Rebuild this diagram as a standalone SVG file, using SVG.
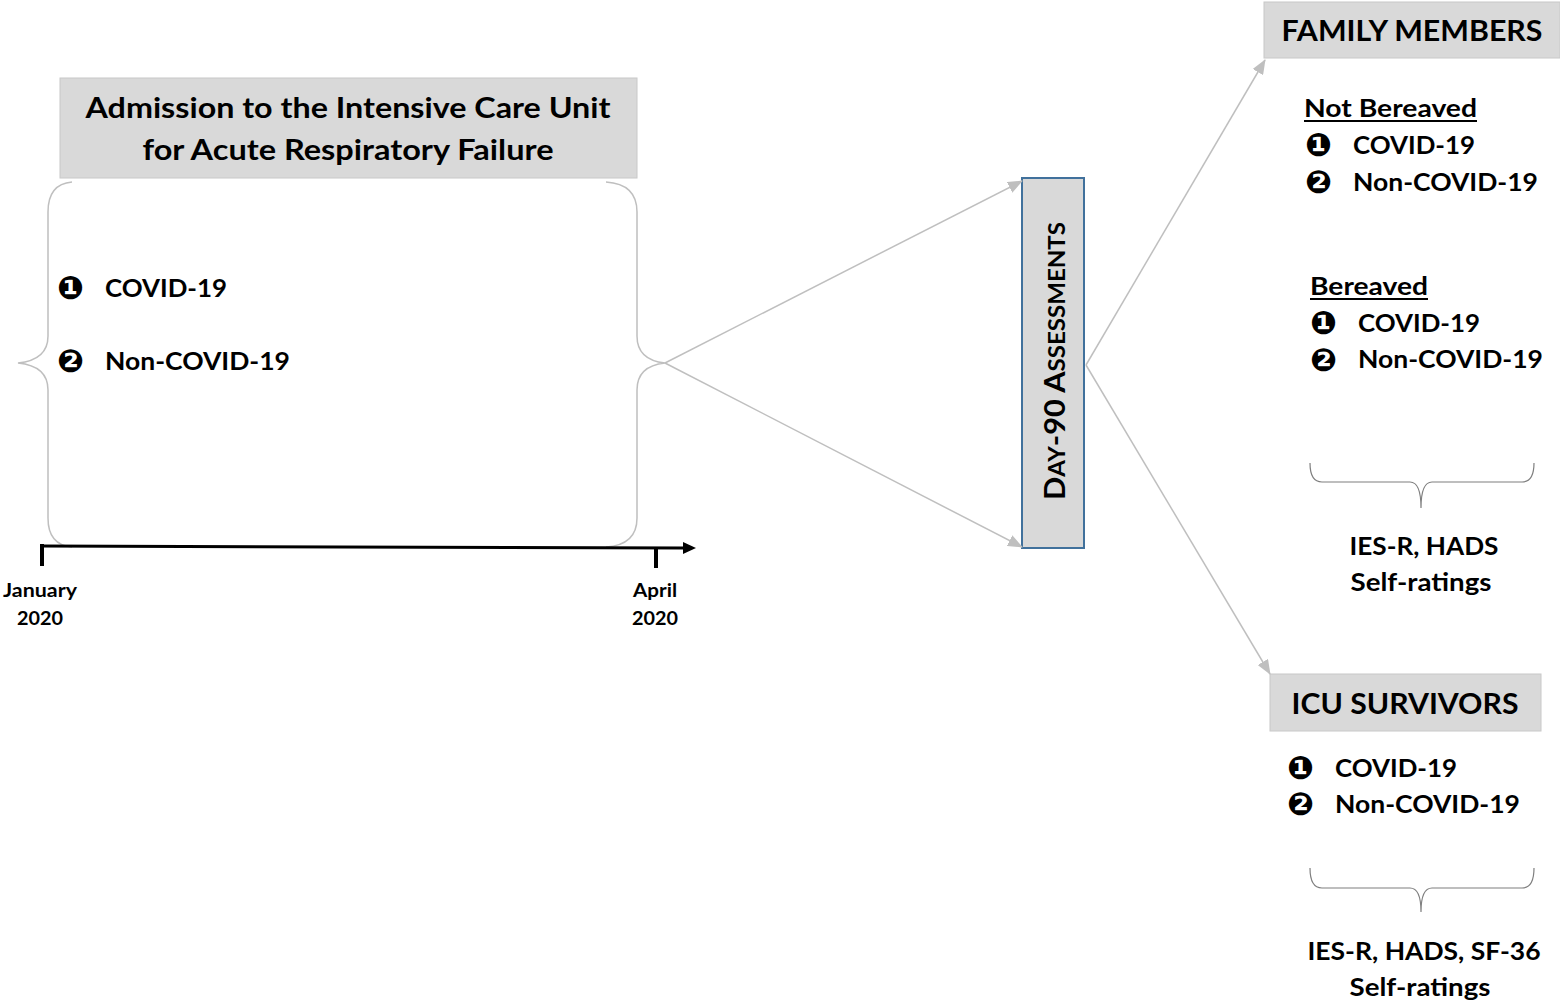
<svg xmlns="http://www.w3.org/2000/svg" width="1560" height="1003" viewBox="0 0 1560 1003">
<style>
.t{font-family:Lato,"Open Sans","Liberation Sans",sans-serif;font-weight:bold;fill:#000}
.n{font-family:"DejaVu Sans",sans-serif;font-weight:bold;fill:#000;font-size:32px}
.box{fill:#d9d9d9;stroke:#c8c8c8;stroke-width:1}
.conn{stroke:#bfbfbf;stroke-width:1.5;fill:none}
.brace{stroke:#bfbfbf;stroke-width:1.5;fill:none}
.sbrace{stroke:#7f7f7f;stroke-width:1.2;fill:none}
</style>
<defs>
<marker id="ah" markerUnits="userSpaceOnUse" markerWidth="16" markerHeight="12" refX="14" refY="6" orient="auto">
<path d="M0,0 L15,6 L0,12 Z" fill="#bfbfbf"/>
</marker>
</defs>
<rect width="1560" height="1003" fill="#fff"/>

<g id="admission">
<rect class="box" x="60" y="78" width="577" height="100"/>
<text class="t" x="348" y="118" font-size="29" text-anchor="middle" textLength="525" lengthAdjust="spacingAndGlyphs">Admission to the Intensive Care Unit</text>
<text class="t" x="348" y="160" font-size="29" text-anchor="middle" textLength="411" lengthAdjust="spacingAndGlyphs">for Acute Respiratory Failure</text>
</g>

<g id="cohort">
<path class="brace" d="M72,182 Q48,184 48,212 L48,336 Q48,360 18,363 Q48,366 48,390 L48,518 Q48,545 72,547"/>
<path class="brace" d="M606,182 Q637,184 637,212 L637,336 Q637,360 665,363 Q637,366 637,390 L637,518 Q637,545 606,547"/>
<text class="n" x="57" y="299">❶</text>
<text class="t" x="105" y="297" font-size="25" textLength="122" lengthAdjust="spacingAndGlyphs">COVID-19</text>
<text class="n" x="57" y="372">❷</text>
<text class="t" x="105" y="370" font-size="25" textLength="185" lengthAdjust="spacingAndGlyphs">Non-COVID-19</text>
</g>

<g id="timeline">
<line x1="40" y1="546" x2="684" y2="548" stroke="#000" stroke-width="3"/>
<path d="M683,542 L696,548 L683,554 Z" fill="#000"/>
<line x1="42" y1="544" x2="42" y2="566" stroke="#000" stroke-width="4"/>
<line x1="656" y1="547" x2="656" y2="568" stroke="#000" stroke-width="4"/>
<text class="t" x="40" y="597" font-size="18" text-anchor="middle" textLength="74" lengthAdjust="spacingAndGlyphs">January</text>
<text class="t" x="40" y="625" font-size="18" text-anchor="middle" textLength="46" lengthAdjust="spacingAndGlyphs">2020</text>
<text class="t" x="655" y="597" font-size="18" text-anchor="middle" textLength="44" lengthAdjust="spacingAndGlyphs">April</text>
<text class="t" x="655" y="625" font-size="18" text-anchor="middle" textLength="46" lengthAdjust="spacingAndGlyphs">2020</text>
</g>

<g id="day90">
<rect x="1022" y="178" width="62" height="370" fill="#d9d9d9" stroke="#41719c" stroke-width="2"/>
<text class="t" transform="translate(1065,500) rotate(-90)" font-size="28" textLength="278" lengthAdjust="spacingAndGlyphs">D<tspan font-size="22">AY</tspan>-90 A<tspan font-size="22">SSESSMENTS</tspan></text>
</g>

<g id="family">
<rect class="box" x="1264" y="2" width="296" height="56"/>
<text class="t" x="1412" y="41" font-size="29" text-anchor="middle" textLength="261" lengthAdjust="spacingAndGlyphs">FAMILY MEMBERS</text>
<text class="t" x="1304" y="117" font-size="25" textLength="173" lengthAdjust="spacingAndGlyphs">Not Bereaved</text>
<line x1="1304" y1="121" x2="1477" y2="121" stroke="#000" stroke-width="2"/>
<text class="n" x="1305" y="156">❶</text>
<text class="t" x="1353" y="154" font-size="25" textLength="122" lengthAdjust="spacingAndGlyphs">COVID-19</text>
<text class="n" x="1305" y="193">❷</text>
<text class="t" x="1353" y="191" font-size="25" textLength="185" lengthAdjust="spacingAndGlyphs">Non-COVID-19</text>
<text class="t" x="1310" y="295" font-size="25" textLength="118" lengthAdjust="spacingAndGlyphs">Bereaved</text>
<line x1="1310" y1="299" x2="1428" y2="299" stroke="#000" stroke-width="2"/>
<text class="n" x="1310" y="334">❶</text>
<text class="t" x="1358" y="332" font-size="25" textLength="122" lengthAdjust="spacingAndGlyphs">COVID-19</text>
<text class="n" x="1310" y="371">❷</text>
<text class="t" x="1358" y="368" font-size="25" textLength="185" lengthAdjust="spacingAndGlyphs">Non-COVID-19</text>
<path class="sbrace" d="M1310,463 Q1310,482 1322,482 L1410,482 Q1421,482 1421,508 Q1421,482 1432,482 L1522,482 Q1534,482 1534,463"/>
<text class="t" x="1424" y="555" font-size="25" text-anchor="middle" textLength="149" lengthAdjust="spacingAndGlyphs">IES-R, HADS</text>
<text class="t" x="1421" y="591" font-size="25" text-anchor="middle" textLength="141" lengthAdjust="spacingAndGlyphs">Self-ratings</text>
</g>

<g id="survivors">
<rect class="box" x="1270" y="674" width="271" height="57"/>
<text class="t" x="1405" y="714" font-size="29" text-anchor="middle" textLength="227" lengthAdjust="spacingAndGlyphs">ICU SURVIVORS</text>
<text class="n" x="1287" y="779">❶</text>
<text class="t" x="1335" y="777" font-size="25" textLength="122" lengthAdjust="spacingAndGlyphs">COVID-19</text>
<text class="n" x="1287" y="815">❷</text>
<text class="t" x="1335" y="813" font-size="25" textLength="185" lengthAdjust="spacingAndGlyphs">Non-COVID-19</text>
<path class="sbrace" d="M1310,868 Q1310,888 1322,888 L1410,888 Q1421,888 1421,912 Q1421,888 1432,888 L1522,888 Q1534,888 1534,868"/>
<text class="t" x="1424" y="960" font-size="25" text-anchor="middle" textLength="233" lengthAdjust="spacingAndGlyphs">IES-R, HADS, SF-36</text>
<text class="t" x="1420" y="996" font-size="25" text-anchor="middle" textLength="141" lengthAdjust="spacingAndGlyphs">Self-ratings</text>
</g>

<g id="connectors">
<line class="conn" x1="665" y1="363" x2="1022" y2="181" marker-end="url(#ah)"/>
<line class="conn" x1="665" y1="363" x2="1022" y2="547" marker-end="url(#ah)"/>
<line class="conn" x1="1086" y1="365" x2="1265" y2="60" marker-end="url(#ah)"/>
<line class="conn" x1="1086" y1="365" x2="1270" y2="674" marker-end="url(#ah)"/>
</g>
</svg>
